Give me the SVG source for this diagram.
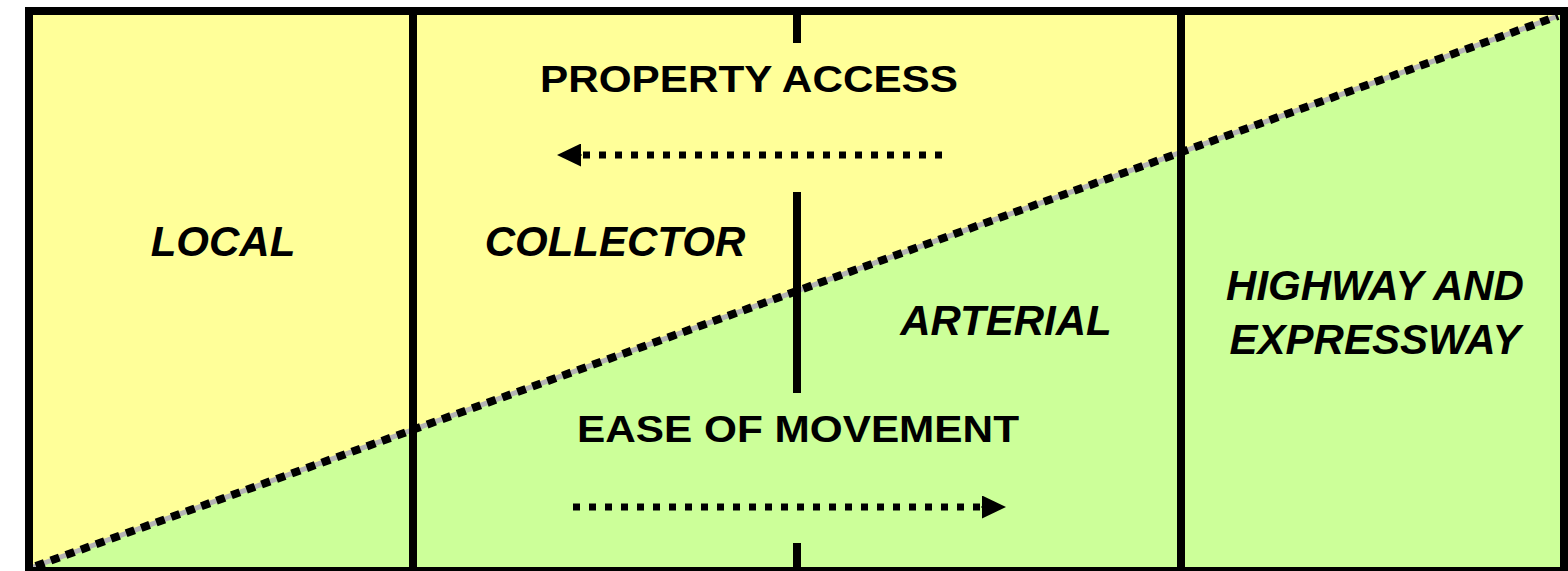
<svg xmlns="http://www.w3.org/2000/svg" width="1568" height="571" viewBox="0 0 1568 571">
  <style>
    .lbl { font-family: "Liberation Sans", Arial, sans-serif; font-weight: bold; fill: #000; }
    .it { font-style: italic; font-size: 42px; text-anchor: middle; }
    .hd { font-size: 36px; }
    .div { stroke: #000; stroke-width: 8; fill: none; }
    .dots { stroke: #000; stroke-width: 7; stroke-dasharray: 7 9; fill: none; }
  </style>
  <defs>
    <marker id="ah" viewBox="0 0 24 23" refX="0" refY="11.5" markerWidth="24" markerHeight="23" markerUnits="userSpaceOnUse" orient="auto">
      <path d="M0 0 L24 11.5 L0 23 Z" fill="#000"/>
    </marker>
  </defs>
  <rect width="1568" height="571" fill="#fff"/>
  <g id="regions">
    <polygon points="29,11 1564,11 1564,571 29,571" fill="#ffff99"/>
    <polygon points="33,567 1560,15 1564,11 1564,571 29,571" fill="#ccff99"/>
  </g>
  <g id="diagonal">
    <line x1="33" y1="567" x2="1558" y2="16" stroke="#b4b4b4" stroke-width="5"/>
    <line x1="33" y1="567" x2="1558" y2="16" stroke="#000" stroke-width="8" stroke-dasharray="9 7" stroke-dashoffset="-3"/>
  </g>
  <g id="connectors">
    <rect x="29" y="11" width="1535" height="560" class="div"/>
    <line x1="413" y1="11" x2="413" y2="571" class="div"/>
    <line x1="1181" y1="11" x2="1181" y2="571" class="div"/>
    <line x1="797" y1="11" x2="797" y2="43" class="div"/>
    <line x1="797" y1="192" x2="797" y2="393" class="div"/>
    <line x1="797" y1="543" x2="797" y2="571" class="div"/>
    <path d="M942 155 H582" class="dots"/>
    <path d="M582 155 H581" stroke="#000" stroke-width="1" marker-end="url(#ah)"/>
    <path d="M573 507 H982" class="dots"/>
    <path d="M981 507 H982" stroke="#000" stroke-width="1" marker-end="url(#ah)"/>
  </g>
  <g id="node-property-access">
    <text class="lbl hd" x="540" y="92" textLength="418" lengthAdjust="spacingAndGlyphs">PROPERTY ACCESS</text>
  </g>
  <g id="node-ease-of-movement">
    <text class="lbl hd" x="577" y="442" textLength="442" lengthAdjust="spacingAndGlyphs">EASE OF MOVEMENT</text>
  </g>
  <g id="node-local">
    <text class="lbl it" x="223" y="256">LOCAL</text>
  </g>
  <g id="node-collector">
    <text class="lbl it" x="615" y="256">COLLECTOR</text>
  </g>
  <g id="node-arterial">
    <text class="lbl it" x="1006" y="335">ARTERIAL</text>
  </g>
  <g id="node-highway">
    <text class="lbl it" x="1375" y="300">HIGHWAY AND</text>
    <text class="lbl it" x="1375" y="354">EXPRESSWAY</text>
  </g>
</svg>
